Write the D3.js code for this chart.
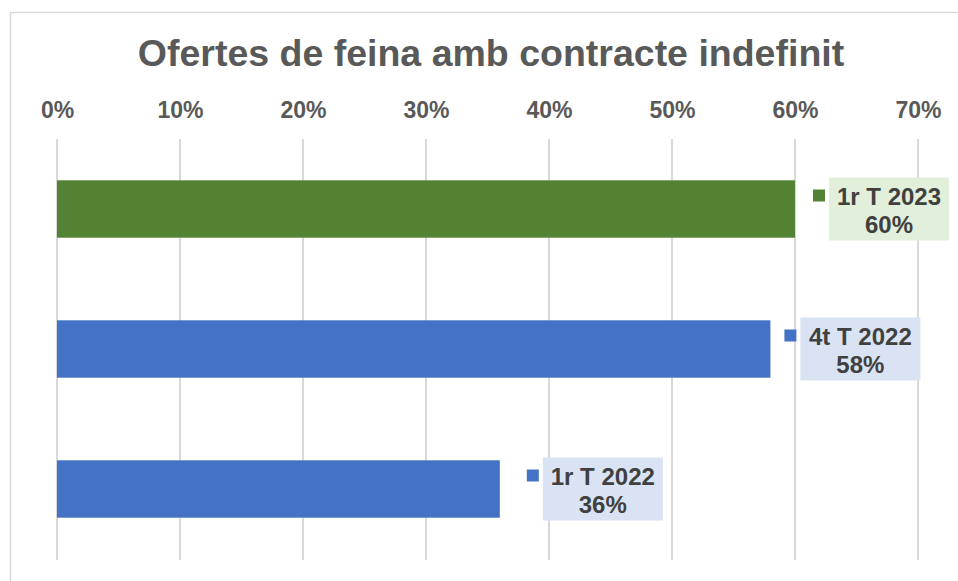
<!DOCTYPE html>
<html>
<head>
<meta charset="utf-8">
<script src="https://cdn.jsdelivr.net/npm/d3@7"></script>
<style>
    body { margin: 0; background: #fff; }
    #chart { width: 958px; height: 581px; }
    text { font-family: "Liberation Sans", Arial, sans-serif; }
</style>
</head>
<body>
<div id="chart"></div>
<script>
const categories = ["1r T 2023", "4t T 2022", "1r T 2022"]
const values = [0.60, 0.58, 0.36]
const seriesColors = ["#548235", "#4472C4", "#4472C4"]
const labelFills = ["#E2EFDA", "#DAE3F3", "#DAE3F3"]
const tickValues = [0, 0.1, 0.2, 0.3, 0.4, 0.5, 0.6, 0.7]
const chartTitle = "Ofertes de feina amb contracte indefinit"

// label boxes are nudged a little differently in the original
const labelNudge = [34, 30, 43]

class BarChart {

    constructor(parentElement) {
        this._parentElement = parentElement
        this._displayData = categories.map((c, i) => ({
            name: c, value: values[i], color: seriesColors[i], fill: labelFills[i], nudge: labelNudge[i]
        }))
        this.initVis()
    }

    initVis() {
        let vis = this

        vis.width = 958
        vis.height = 581

        vis.svg = d3.select("#" + vis._parentElement).append("svg")
            .attr("width", vis.width)
            .attr("height", vis.height)

        // chart border
        vis.svg.append("rect")
            .attr("x", 10.5).attr("y", 12.5)
            .attr("width", 960).attr("height", 600)
            .attr("fill", "#fff")
            .attr("stroke", "#d9d9d9")
            .attr("stroke-width", 1.5)

        vis.svg.append("text")
            .attr("x", 491).attr("y", 66)
            .attr("text-anchor", "middle")
            .attr("font-size", 37.5)
            .attr("font-weight", "bold")
            .attr("fill", "#595959")
            .text(chartTitle)

        // Scales
        vis.x = d3.scaleLinear()
            .domain([0, 0.7])
            .range([57, 918])

        vis.y = d3.scaleBand()
            .domain(categories)
            .range([139, 559])
            .paddingInner(0.59)
            .paddingOuter(0.295)

        // gridlines
        vis.svg.append("g")
            .selectAll("line")
            .data(tickValues)
            .join("line")
            .attr("x1", d => vis.x(d)).attr("x2", d => vis.x(d))
            .attr("y1", 139).attr("y2", 560)
            .attr("stroke", "#d9d9d9")
            .attr("stroke-width", 2)

        vis.xAxis = d3.axisTop(vis.x)
            .tickValues(tickValues)
            .tickSize(0)
            .tickPadding(0)
            .tickFormat(d3.format(".0%"))

        vis.svg.append("g")
            .attr("class", "x-axis")
            .attr("transform", "translate(0,118)")
            .call(vis.xAxis)
            .call(g => g.select(".domain").remove())
            .call(g => g.selectAll("text")
                .attr("font-family", "Liberation Sans, Arial, sans-serif")
                .attr("font-size", 23)
                .attr("font-weight", "bold")
                .attr("fill", "#595959"))

        // bars
        vis.svg.append("g")
            .selectAll("rect")
            .data(vis._displayData)
            .join("rect")
            .attr("x", vis.x(0))
            .attr("y", d => vis.y(d.name))
            .attr("width", d => vis.x(d.value) - vis.x(0))
            .attr("height", vis.y.bandwidth())
            .attr("fill", d => d.color)

        // data labels
        let boxW = 120, boxH = 63
        let labels = vis.svg.append("g")
            .selectAll("g")
            .data(vis._displayData)
            .join("g")
            .attr("transform", d => "translate(" + (vis.x(d.value) + d.nudge) + "," +
                (vis.y(d.name) + vis.y.bandwidth() / 2 - boxH / 2) + ")")

        labels.append("rect")
            .attr("width", boxW).attr("height", boxH)
            .attr("fill", d => d.fill)

        labels.append("rect")
            .attr("x", -16).attr("y", 12)
            .attr("width", 12).attr("height", 12)
            .attr("fill", d => d.color)

        labels.append("text")
            .attr("x", boxW / 2).attr("y", 27)
            .attr("text-anchor", "middle")
            .attr("font-size", 24)
            .attr("font-weight", "bold")
            .attr("fill", "#404040")
            .text(d => d.name)

        labels.append("text")
            .attr("x", boxW / 2).attr("y", 55)
            .attr("text-anchor", "middle")
            .attr("font-size", 24)
            .attr("font-weight", "bold")
            .attr("fill", "#404040")
            .text(d => d3.format(".0%")(d.value))
    }
}

new BarChart("chart")
</script>
</body>
</html>
